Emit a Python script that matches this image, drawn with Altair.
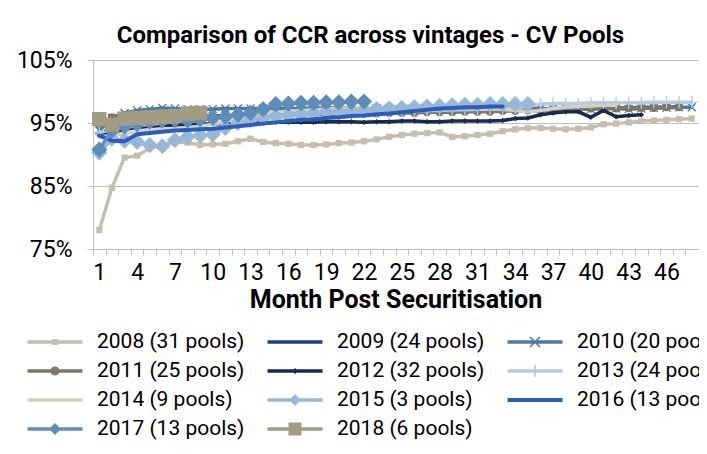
import altair as alt
import pandas as pd
import math

# ---------------- data ----------------
months = list(range(1, 49))
series_names = [
    "2008 (31 pools)", "2009 (24 pools)", "2010 (20 pools)", "2011 (25 pools)",
    "2012 (32 pools)", "2013 (24 pools)", "2014 (9 pools)", "2015 (3 pools)",
    "2016 (13 pools)", "2017 (13 pools)", "2018 (6 pools)",
]
v2008 = [78.0, 84.7, 89.5, 89.8, 91.0, 91.5, 92.0, 91.9, 91.5, 91.6, 91.7, 92.1,
         92.5, 92.0, 91.8, 91.7, 91.5, 91.5, 91.6, 91.8, 91.9, 92.1, 92.4, 92.8,
         93.1, 93.3, 93.4, 93.5, 92.8, 92.9, 93.1, 93.3, 93.7, 94.0, 94.2, 94.2,
         94.1, 94.0, 94.1, 94.3, 94.8, 94.9, 95.1, 95.3, 95.4, 95.5, 95.6, 95.7]
v2009 = [94.2, 95.0, 95.4, 95.6, 95.8, 95.9, 96.0, 96.0, 96.1, 96.1, 96.2, 96.2,
         96.3, 96.3, 96.4, 96.4, 96.5, 96.5, 96.5, 96.6, 96.6, 96.7, 96.7, 96.7,
         96.8, 96.8, 96.8, 96.9, 96.9, 96.9, 97.0, 97.0, 97.0, 97.1, 97.1, 97.2,
         97.2, 97.3, 97.3, 97.3, 97.4, 97.4, 97.4, 97.5, 97.5, 97.5, 97.6]
v2010 = [93.8, 95.8, 96.6, 97.0, 97.2, 97.4, 97.3, 97.2, 97.2, 97.2, 97.3, 97.3,
         97.3, 97.3, 97.3, 97.3, 97.3, 97.4, 97.4, 97.4, 97.4, 97.4, 97.4, 97.4,
         97.4, 97.4, 97.4, 97.4, 97.4, 97.4, 97.4, 97.4, 97.4, 97.4, 97.4, 97.3,
         97.3, 97.3, 97.3, 97.2, 97.3, 97.3, 97.2, 97.3, 97.4, 97.4, 97.5, 97.5]
v2011 = [94.8, 95.9, 95.4, 95.6, 95.7, 95.7, 95.6, 95.8, 95.9, 96.0, 96.0, 96.1,
         96.1, 96.2, 96.2, 96.3, 96.3, 96.4, 96.4, 96.4, 96.5, 96.5, 96.5, 96.6,
         96.6, 96.6, 96.7, 96.7, 96.7, 96.8, 96.8, 96.8, 96.9, 96.9, 97.0, 97.0,
         97.1, 97.2, 97.2, 97.3, 97.3, 97.3, 97.4, 97.4, 97.4, 97.5, 97.5]
v2012 = [93.0, 93.5, 94.0, 94.3, 94.5, 94.6, 94.7, 94.8, 94.8, 94.9, 94.9, 95.0,
         95.0, 95.0, 95.1, 95.1, 95.1, 95.1, 95.2, 95.2, 95.2, 95.1, 95.2, 95.2,
         95.3, 95.3, 95.2, 95.2, 95.3, 95.3, 95.3, 95.3, 95.4, 95.7, 95.8, 96.3,
         96.6, 96.8, 96.8, 95.9, 97.0, 96.0, 96.2, 96.3]
v2013 = [93.5, 94.0, 94.3, 94.6, 94.8, 95.0, 95.2, 95.4, 95.5, 95.6, 95.8, 95.9,
         96.0, 96.1, 96.2, 96.3, 96.4, 96.5, 96.6, 96.6, 96.7, 96.7, 96.8, 96.8,
         96.9, 96.9, 97.0, 97.0, 97.1, 97.1, 97.2, 97.2, 97.3, 97.4, 97.6, 98.0,
         98.1, 98.1, 98.1, 98.2, 98.2, 98.2, 98.2, 98.2, 98.3, 98.3, 98.3, 98.3]
v2014 = [92.8, 93.0, 93.3, 93.6, 93.8, 94.0, 94.1, 94.3, 94.5, 94.8, 95.2, 95.8,
         96.2, 96.5, 96.7, 96.9, 97.0, 97.1, 97.2, 97.3, 97.4, 97.5, 97.5, 97.6,
         97.7, 97.7, 97.7, 97.7, 97.6, 97.5, 97.4, 97.3, 97.2, 97.0, 96.8, 97.0,
         97.3, 97.5, 97.6, 97.7, 97.8, 97.8]
v2015 = [90.3, 92.5, 92.2, 92.0, 91.5, 91.3, 92.3, 92.8, 93.0, 93.2, 94.2, 95.0,
         95.5, 95.8, 96.0, 96.2, 96.4, 96.5, 96.7, 96.8, 96.9, 97.0, 97.2, 97.3,
         97.4, 97.5, 97.6, 97.7, 97.8, 97.9, 97.9, 98.0, 98.0, 98.0, 98.0]
v2016 = [93.0, 92.2, 92.1, 93.2, 93.4, 93.6, 93.8, 93.9, 94.0, 94.1, 94.3, 94.5,
         94.7, 94.9, 95.1, 95.3, 95.5, 95.6, 95.8, 95.9, 96.1, 96.2, 96.4, 96.5,
         96.7, 96.9, 97.1, 97.3, 97.4, 97.5, 97.5, 97.6, 97.6]
v2017 = [90.8, 93.8, 94.5, 94.8, 95.2, 95.4, 95.5, 95.4, 95.6, 95.8, 96.0, 96.3,
         96.6, 97.2, 98.0, 98.1, 98.2, 98.2, 98.3, 98.3, 98.4, 98.4]
v2018 = [95.6, 94.7, 95.7, 95.8, 95.9, 96.0, 96.1, 96.5, 96.6]
all_values = [v2008, v2009, v2010, v2011, v2012, v2013, v2014, v2015, v2016, v2017, v2018]

y_ticks = [0.75, 0.85, 0.95, 1.05]
chart_title = "Comparison of CCR across vintages - CV Pools"
x_title = "Month Post Securitisation"

# ---------------- styles ----------------
colors = ["#C5BFB0", "#203F7C", "#4C78A3", "#7E7762", "#172B50", "#B3CBE4",
          "#D3CFC4", "#99B7D7", "#2D5DBB", "#5F8DBA", "#A29C84"]
line_w = [3.5, 3.5, 3.5, 3.5, 3.5, 3.5, 3.5, 3.5, 4.0, 3.5, 3.5]
XPATH = "M-1,-1L1,1M-1,1L1,-1"
PPATH = "M-1,0L1,0M0,-1L0,1"
markers = [
    ("square", 40, True, 0),
    None,
    (XPATH, 64, False, 1.3),
    ("circle", 64, True, 0),
    ("diamond", 30, True, 0),
    (PPATH, 150, False, 1.3),
    None,
    ("diamond", 260, True, 0),
    None,
    ("diamond", 260, True, 0),
    ("square", 210, True, 0),
]

FONT = "Roboto"
LAB = 23
LEG_FONT = 21
LEG_SYM = 38        # legend symbol box (controls row height)
LEG_LINE = 55       # legend line length in px (may exceed the box)


def poly(points):
    area = sum(x1 * y2 - x2 * y1 for (x1, y1), (x2, y2) in zip(points, points[1:] + points[:1]))
    if area < 0:
        points = points[::-1]
    return "M" + "L".join(f"{x:.3f},{y:.3f}" for x, y in points) + "Z"


def px(v):
    return v / (LEG_SYM / 2)


def leg_line(lw):
    t = px(lw / 2)
    h = px(LEG_LINE / 2)
    return poly([(-h, -t), (h, -t), (h, t), (-h, t)])


def leg_square(h):
    s = px(h)
    return poly([(-s, -s), (s, -s), (s, s), (-s, s)])


def leg_diamond(h):
    d = px(h)
    return poly([(0, -d), (d, 0), (0, d), (-d, 0)])


def leg_circle(r):
    rr = px(r)
    return poly([(rr * math.cos(2 * math.pi * k / 20), rr * math.sin(2 * math.pi * k / 20)) for k in range(20)])


def leg_x(h, w):
    a, q = px(h), px(w) / 1.4142
    b1 = poly([(-a - q, -a + q), (a - q, a + q), (a + q, a - q), (-a + q, -a - q)])
    b2 = poly([(a + q, -a + q), (-a + q, a + q), (-a - q, a - q), (a - q, -a - q)])
    return b1 + b2


def leg_plus(h, w):
    a, q = px(h), px(w)
    return poly([(-q, -a), (q, -a), (q, a), (-q, a)])


legend_marks = [
    leg_square(3), "", leg_x(5, 0.8), leg_circle(4.5), leg_diamond(3),
    leg_plus(6, 0.8), "", leg_diamond(6), "", leg_diamond(6), leg_square(6.5),
]
legend_paths = [leg_line(lw) + m for lw, m in zip(line_w, legend_marks)]

# ---------------- table ----------------
rows = []
for name, vals in zip(series_names, all_values):
    for m, v in zip(months, vals):
        rows.append({"series": name, "month": m, "ccr": v / 100})
df = pd.DataFrame(rows)

W, H = 605, 189
step = W / len(months)

X = alt.X(
    "month:Q",
    scale=alt.Scale(domain=[0.5, len(months) + 0.5], nice=False, zero=False),
    axis=alt.Axis(
        values=months, tickOffset=-step / 2, labelOffset=step / 2,
        labelExpr="(datum.value - 1) % 3 == 0 ? datum.label : ''",
        labelOverlap=False, labelFlush=False, grid=False, tickSize=6,
        tickColor="#BFBFBF", domainColor="#BFBFBF", labelPadding=6,
        labelFontSize=LAB, labelFont=FONT, labelColor="#000000", labelAngle=0,
        title=x_title, titleFont=FONT, titleFontSize=25, titleFontWeight="bold",
        titleColor="#000000", titlePadding=3,
    ),
)
Y = alt.Y(
    "ccr:Q",
    scale=alt.Scale(domain=[0.75, 1.05], nice=False, zero=False),
    axis=alt.Axis(
        values=y_ticks, format=".0%", title=None, tickSize=6, tickColor="#BFBFBF",
        domainColor="#BFBFBF", gridColor="#BFBFBF", grid=True, labelPadding=15,
        labelFontSize=LAB, labelFont=FONT, labelColor="#000000",
    ),
)
# line colour scale: domain taken from the data (sorted = vintage order)
C = alt.Color("series:N", scale=alt.Scale(range=colors), sort="ascending", legend=None)

layers = []
for i, name in enumerate(series_names):
    base = alt.Chart(df).transform_filter(alt.datum.series == name)
    layers.append(
        base.mark_line(strokeWidth=line_w[i], strokeJoin="round", strokeCap="round")
        .encode(x=X, y=Y, color=C)
    )
    if markers[i] is not None:
        shp, sz, filled, sw = markers[i]
        layers.append(
            base.mark_point(shape=shp, size=sz, filled=filled, opacity=1, strokeWidth=sw)
            .encode(x=X, y=Y, color=C)
        )

leg = alt.Legend(
    title=None, orient="none", legendX=-67, legendY=263, columns=3,
    direction="horizontal", symbolSize=LEG_SYM * LEG_SYM, symbolStrokeWidth=0,
    symbolOffset=10, labelFontSize=LEG_FONT, labelFont=FONT, labelColor="#000000",
    labelOffset=23, columnPadding=21, rowPadding=0, symbolOpacity=1,
)
# zero-size points that only carry the legend (line + marker glyphs)
legend_layer = (
    alt.Chart(df)
    .mark_point(filled=True, size=0, strokeWidth=0)
    .encode(
        x=X, y=Y,
        fill=alt.Fill("series:N", scale=alt.Scale(domain=series_names, range=colors), legend=leg),
        shape=alt.Shape("series:N", scale=alt.Scale(domain=series_names, range=legend_paths), legend=leg),
    )
)

chart = (
    alt.layer(*layers, legend_layer)
    .properties(
        width=W, height=H,
        title=alt.TitleParams(
            text=chart_title, fontSize=24, fontWeight="bold", font=FONT,
            color="#000000", anchor="middle", dx=-25, offset=1,
        ),
        autosize=alt.AutoSizeParams(type="none"),
        padding={"left": 85, "top": 52, "right": 1, "bottom": 200},
        background="#FFFFFF",
    )
    .configure_view(stroke=None)
)

chart.save("out.html", embed_options={"renderer": "svg", "actions": False})
